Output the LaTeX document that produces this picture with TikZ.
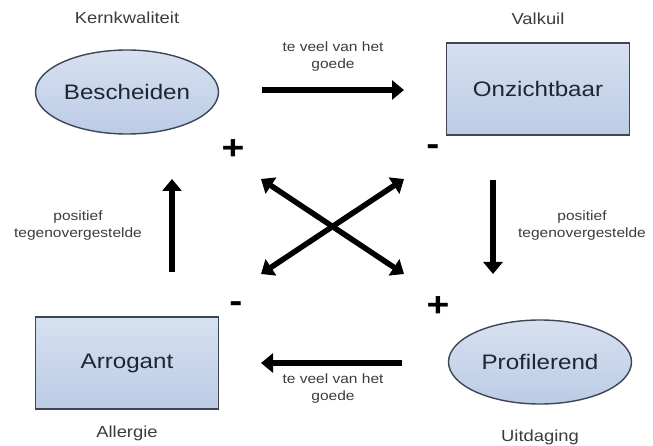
\documentclass[tikz,border=0pt]{standalone}
\usepackage{fontspec}
\setmainfont[FakeStretch=1.15]{Liberation Sans}
\usepackage{tikz}
\usetikzlibrary{positioning,arrows.meta,shapes.geometric}

\definecolor{celltop}{RGB}{214,224,240}
\definecolor{cellbot}{RGB}{188,204,230}
\definecolor{celledge}{RGB}{62,70,84}
\definecolor{celltext}{RGB}{30,38,52}
\definecolor{labeltext}{RGB}{60,60,60}

\begin{document}
\begin{tikzpicture}[x=1pt, y=-1pt,
  cell/.style = {draw=celledge, line width=1.4pt, top color=celltop, bottom color=cellbot, text=celltext, font=\fontsize{21}{24}\selectfont, inner sep=0pt},
  trait/.style = {cell, ellipse, minimum width=183pt, minimum height=84pt},
  box/.style = {cell, rectangle, minimum width=183pt, minimum height=92pt},
  role/.style = {text=labeltext, font=\fontsize{16}{19}\selectfont},
  note/.style = {text=labeltext, font=\fontsize{13.5}{17}\selectfont, align=center},
  sign/.style = {text=black, font=\bfseries\fontsize{34}{34}\selectfont, inner sep=0pt},
  flow/.style = {line width=5.5pt, -{Triangle[length=12pt,width=19pt]}},
  both/.style = {line width=5.5pt, {Triangle[length=12pt,width=19pt]}-{Triangle[length=12pt,width=19pt]}}]

\useasboundingbox (0,0) rectangle (653,446);

% the four qualities
\node[trait] (besch) at (127,92) {Bescheiden};
\node[box] (onz) at (538,89) {Onzichtbaar};
\node[trait] (prof) at (540,362) {Profilerend};
\node[box] (arro) at (127,363) {Arrogant};

% their roles
\node[role] (kern) at (127,18) {Kernkwaliteit};
\node[role] (valk) at (538,19) {Valkuil};
\node[role] (uitd) at (540,437) {Uitdaging};
\node[role] (alle) at (127,433) {Allergie};

% signs
\node[sign] (plusA) at (233,150) {+};
\node[sign] (minA) at (433,150) {-};
\node[sign] (plusB) at (438,307) {+};
\node[sign] (minB) at (236,307) {-};

% arrow ends
\coordinate (topS) at (262,90);
\coordinate (topE) at (404,90);
\coordinate (rgtS) at (493,180);
\coordinate (rgtE) at (493,274);
\coordinate (botS) at (402,363);
\coordinate (botE) at (261,363);
\coordinate (lftS) at (172,272);
\coordinate (lftE) at (172,179);
\coordinate (ul) at (261,179);
\coordinate (ur) at (404,179);
\coordinate (ll) at (261,274);
\coordinate (lr) at (404,274);

\draw[flow] (topS) -- (topE);
\draw[flow] (rgtS) -- (rgtE);
\draw[flow] (botS) -- (botE);
\draw[flow] (lftS) -- (lftE);
\draw[both] (ul) -- (lr);
\draw[both] (ll) -- (ur);

% arrow labels
\node[note] (teveelA) at (333,57) {te veel van het\\goede};
\node[note] (teveelB) at (333,389) {te veel van het\\goede};
\node[note] (posA) at (582,226) {positief\\tegenovergestelde};
\node[note] (posB) at (78,226) {positief\\tegenovergestelde};
\end{tikzpicture}
\end{document}
